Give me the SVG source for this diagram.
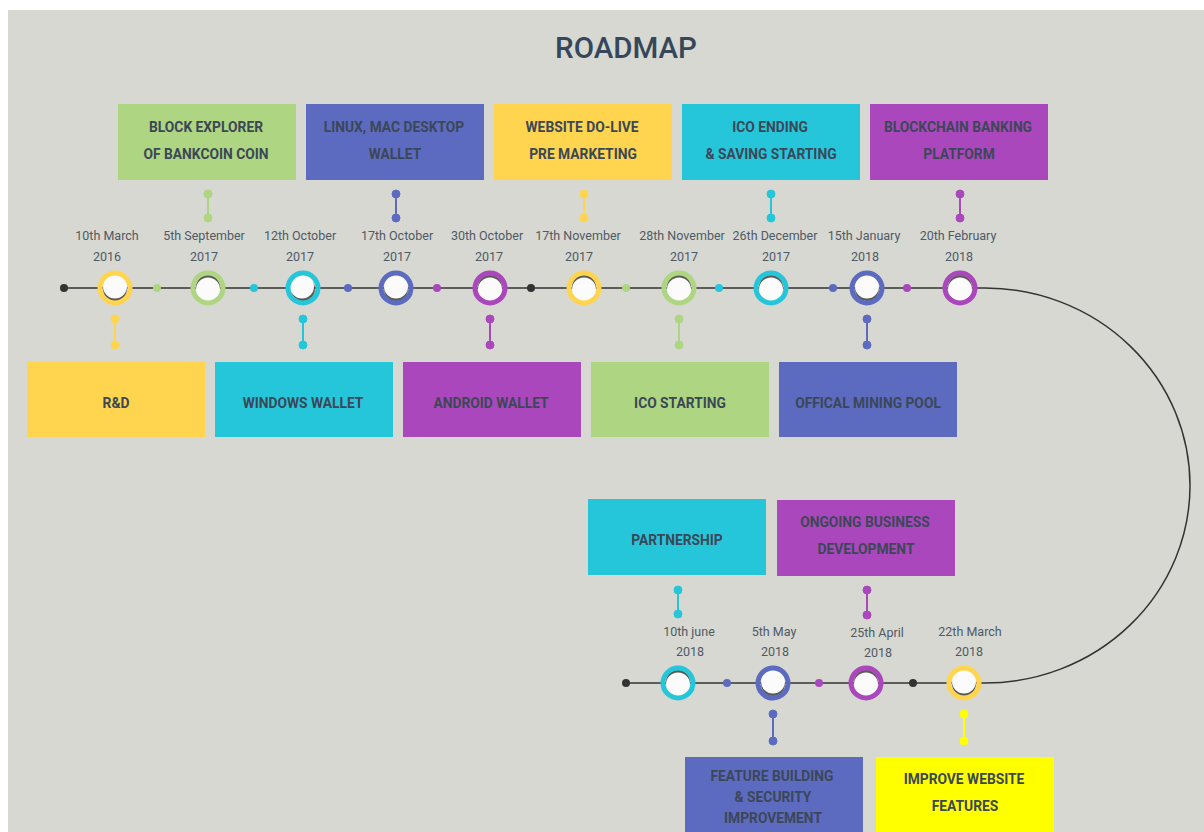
<svg xmlns="http://www.w3.org/2000/svg" width="1204" height="832" viewBox="0 0 1204 832">
<defs>
<filter id="soft" x="-20%" y="-20%" width="140%" height="140%"><feGaussianBlur stdDeviation="0.7"/></filter>
<style>
.title{font-family:Roboto,"Liberation Sans",sans-serif;font-size:29.5px;font-weight:500;fill:#35475a;text-anchor:middle}
.date{font-family:Roboto,"Liberation Sans",sans-serif;font-size:12.5px;fill:#4e5a66;text-anchor:middle}
.bt{font-family:Roboto,"Liberation Sans",sans-serif;font-size:13.8px;font-weight:700;fill:#3b4757;text-anchor:middle}
.ring{fill:none;stroke-width:5}
.inner{fill:#fbfbfb}
.shade{fill:#3c3a36;opacity:0.8;filter:url(#soft)}
.tl{fill:none;stroke:#333;stroke-width:1.5}
.stem{stroke-width:2}
</style>
</defs>
<rect x="0" y="0" width="1204" height="832" fill="#ffffff"/>
<rect x="8" y="10" width="1196" height="822" fill="#d8d8d2"/>
<text class="title" x="626" y="58">ROADMAP</text>

<g id="connectors">
<path class="tl" d="M64 288 L985 288 A205 197.5 0 0 1 985 683 L626 683"/>
<circle cx="64" cy="288" r="4" fill="#333"/>
<circle cx="157" cy="288" r="4" fill="#aed581"/>
<circle cx="254" cy="288" r="4" fill="#26c6da"/>
<circle cx="348" cy="288" r="4" fill="#5c6bc0"/>
<circle cx="437" cy="288" r="4" fill="#ab47bc"/>
<circle cx="531" cy="288" r="4" fill="#333"/>
<circle cx="626" cy="288" r="4" fill="#aed581"/>
<circle cx="719" cy="288" r="4" fill="#26c6da"/>
<circle cx="833" cy="288" r="4" fill="#5c6bc0"/>
<circle cx="907" cy="288" r="4" fill="#ab47bc"/>
<circle cx="626" cy="683" r="4" fill="#333"/>
<circle cx="727" cy="683" r="4" fill="#5c6bc0"/>
<circle cx="819" cy="683" r="4" fill="#ab47bc"/>
<circle cx="913" cy="683" r="4" fill="#333"/>
<g stroke="#aed581" fill="#aed581"><line class="stem" x1="208" y1="194" x2="208" y2="218"/><circle cx="208" cy="194" r="4"/><circle cx="208" cy="218" r="4"/></g>
<g stroke="#5c6bc0" fill="#5c6bc0"><line class="stem" x1="396" y1="194" x2="396" y2="218"/><circle cx="396" cy="194" r="4"/><circle cx="396" cy="218" r="4"/></g>
<g stroke="#ffd54f" fill="#ffd54f"><line class="stem" x1="584" y1="194" x2="584" y2="218"/><circle cx="584" cy="194" r="4"/><circle cx="584" cy="218" r="4"/></g>
<g stroke="#26c6da" fill="#26c6da"><line class="stem" x1="771" y1="194" x2="771" y2="218"/><circle cx="771" cy="194" r="4"/><circle cx="771" cy="218" r="4"/></g>
<g stroke="#ab47bc" fill="#ab47bc"><line class="stem" x1="960" y1="194" x2="960" y2="218"/><circle cx="960" cy="194" r="4"/><circle cx="960" cy="218" r="4"/></g>
<g stroke="#ffd54f" fill="#ffd54f"><line class="stem" x1="115" y1="319" x2="115" y2="345"/><circle cx="115" cy="319" r="4"/><circle cx="115" cy="345" r="4"/></g>
<g stroke="#26c6da" fill="#26c6da"><line class="stem" x1="303" y1="319" x2="303" y2="345"/><circle cx="303" cy="319" r="4"/><circle cx="303" cy="345" r="4"/></g>
<g stroke="#ab47bc" fill="#ab47bc"><line class="stem" x1="490" y1="319" x2="490" y2="345"/><circle cx="490" cy="319" r="4"/><circle cx="490" cy="345" r="4"/></g>
<g stroke="#aed581" fill="#aed581"><line class="stem" x1="679" y1="319" x2="679" y2="345"/><circle cx="679" cy="319" r="4"/><circle cx="679" cy="345" r="4"/></g>
<g stroke="#5c6bc0" fill="#5c6bc0"><line class="stem" x1="867" y1="319" x2="867" y2="345"/><circle cx="867" cy="319" r="4"/><circle cx="867" cy="345" r="4"/></g>
<g stroke="#26c6da" fill="#26c6da"><line class="stem" x1="678" y1="590" x2="678" y2="614"/><circle cx="678" cy="590" r="4"/><circle cx="678" cy="614" r="4"/></g>
<g stroke="#ab47bc" fill="#ab47bc"><line class="stem" x1="867" y1="590" x2="867" y2="615"/><circle cx="867" cy="590" r="4"/><circle cx="867" cy="615" r="4"/></g>
<g stroke="#5c6bc0" fill="#5c6bc0"><line class="stem" x1="773" y1="714" x2="773" y2="741"/><circle cx="773" cy="714" r="4"/><circle cx="773" cy="741" r="4"/></g>
<g stroke="#ffff00" fill="#ffff00"><line class="stem" x1="964" y1="714" x2="964" y2="741"/><circle cx="964" cy="714" r="4"/><circle cx="964" cy="741" r="4"/></g>
</g>

<g id="n1"><circle class="shade" cx="115" cy="289" r="12"/><circle class="inner" cx="115" cy="286.5" r="12"/><circle class="ring" cx="115" cy="288" r="15" stroke="#ffd54f"/><text class="date" x="107" y="240">10th March</text><text class="date" x="107" y="261">2016</text></g>
<g id="n2"><circle class="shade" cx="208" cy="287" r="12"/><circle class="inner" cx="208" cy="289.5" r="12"/><circle class="ring" cx="208" cy="288" r="15" stroke="#aed581"/><text class="date" x="204" y="240">5th September</text><text class="date" x="204" y="261">2017</text></g>
<g id="n3"><circle class="shade" cx="303" cy="289" r="12"/><circle class="inner" cx="302" cy="286.5" r="12"/><circle class="ring" cx="303" cy="288" r="15" stroke="#26c6da"/><text class="date" x="300" y="240">12th October</text><text class="date" x="300" y="261">2017</text></g>
<g id="n4"><circle class="shade" cx="396" cy="289" r="12"/><circle class="inner" cx="396" cy="286.5" r="12"/><circle class="ring" cx="396" cy="288" r="15" stroke="#5c6bc0"/><text class="date" x="397" y="240">17th October</text><text class="date" x="397" y="261">2017</text></g>
<g id="n5"><circle class="shade" cx="490" cy="287" r="12"/><circle class="inner" cx="490" cy="289.5" r="12"/><circle class="ring" cx="490" cy="288" r="15" stroke="#ab47bc"/><text class="date" x="487" y="240">30th October</text><text class="date" x="489" y="261">2017</text></g>
<g id="n6"><circle class="shade" cx="584" cy="287" r="12"/><circle class="inner" cx="584" cy="289.5" r="12"/><circle class="ring" cx="584" cy="288" r="15" stroke="#ffd54f"/><text class="date" x="578" y="240">17th November</text><text class="date" x="579" y="261">2017</text></g>
<g id="n7"><circle class="shade" cx="679" cy="287" r="12"/><circle class="inner" cx="679" cy="289.5" r="12"/><circle class="ring" cx="679" cy="288" r="15" stroke="#aed581"/><text class="date" x="682" y="240">28th November</text><text class="date" x="684" y="261">2017</text></g>
<g id="n8"><circle class="shade" cx="771" cy="287" r="12"/><circle class="inner" cx="771" cy="289.5" r="12"/><circle class="ring" cx="771" cy="288" r="15" stroke="#26c6da"/><text class="date" x="775" y="240">26th December</text><text class="date" x="776" y="261">2017</text></g>
<g id="n9"><circle class="shade" cx="867" cy="289" r="12"/><circle class="inner" cx="867" cy="286.5" r="12"/><circle class="ring" cx="867" cy="288" r="15" stroke="#5c6bc0"/><text class="date" x="864" y="240">15th January</text><text class="date" x="865" y="261">2018</text></g>
<g id="n10"><circle class="shade" cx="960" cy="287" r="12"/><circle class="inner" cx="960" cy="289.5" r="12"/><circle class="ring" cx="960" cy="288" r="15" stroke="#ab47bc"/><text class="date" x="958" y="240">20th February</text><text class="date" x="959" y="261">2018</text></g>

<g id="n11"><circle class="shade" cx="678" cy="682" r="12"/><circle class="inner" cx="678" cy="684.5" r="12"/><circle class="ring" cx="678" cy="683" r="15" stroke="#26c6da"/><text class="date" x="689" y="636">10th june</text><text class="date" x="690" y="656">2018</text></g>
<g id="n12"><circle class="shade" cx="773" cy="684" r="12"/><circle class="inner" cx="773" cy="681.5" r="12"/><circle class="ring" cx="773" cy="683" r="15" stroke="#5c6bc0"/><text class="date" x="774" y="636">5th May</text><text class="date" x="775" y="656">2018</text></g>
<g id="n13"><circle class="shade" cx="866" cy="682" r="12"/><circle class="inner" cx="866" cy="684.5" r="12"/><circle class="ring" cx="866" cy="683" r="15" stroke="#ab47bc"/><text class="date" x="877" y="637">25th April</text><text class="date" x="878" y="657">2018</text></g>
<g id="n14"><circle class="shade" cx="964" cy="684" r="12"/><circle class="inner" cx="964" cy="681.5" r="12"/><circle class="ring" cx="964" cy="683" r="15" stroke="#ffd54f"/><text class="date" x="970" y="636">22th March</text><text class="date" x="969" y="656">2018</text></g>

<g id="b1"><rect x="118" y="104" width="178" height="76" fill="#aed581"/><text class="bt" x="206" y="132">BLOCK EXPLORER</text><text class="bt" x="206" y="159">OF BANKCOIN COIN</text></g>
<g id="b2"><rect x="306" y="104" width="178" height="76" fill="#5c6bc0"/><text class="bt" x="394" y="132">LINUX, MAC DESKTOP</text><text class="bt" x="395" y="159">WALLET</text></g>
<g id="b3"><rect x="494" y="104" width="178" height="76" fill="#ffd54f"/><text class="bt" x="582" y="132">WEBSITE DO-LIVE</text><text class="bt" x="583" y="159">PRE MARKETING</text></g>
<g id="b4"><rect x="682" y="104" width="178" height="76" fill="#26c6da"/><text class="bt" x="770" y="132">ICO ENDING</text><text class="bt" x="771" y="159">&amp; SAVING STARTING</text></g>
<g id="b5"><rect x="870" y="104" width="178" height="76" fill="#ab47bc"/><text class="bt" x="958" y="132">BLOCKCHAIN BANKING</text><text class="bt" x="959" y="159">PLATFORM</text></g>

<g id="b6"><rect x="27" y="362" width="178" height="75" fill="#ffd54f"/><text class="bt" x="116" y="408">R&amp;D</text></g>
<g id="b7"><rect x="215" y="362" width="178" height="75" fill="#26c6da"/><text class="bt" x="303" y="408">WINDOWS WALLET</text></g>
<g id="b8"><rect x="403" y="362" width="178" height="75" fill="#ab47bc"/><text class="bt" x="491" y="408">ANDROID WALLET</text></g>
<g id="b9"><rect x="591" y="362" width="178" height="75" fill="#aed581"/><text class="bt" x="680" y="408">ICO STARTING</text></g>
<g id="b10"><rect x="779" y="362" width="178" height="75" fill="#5c6bc0"/><text class="bt" x="868" y="408">OFFICAL MINING POOL</text></g>

<g id="b11"><rect x="588" y="499" width="178" height="76" fill="#26c6da"/><text class="bt" x="677" y="545">PARTNERSHIP</text></g>
<g id="b12"><rect x="777" y="500" width="178" height="76" fill="#ab47bc"/><text class="bt" x="865" y="527">ONGOING BUSINESS</text><text class="bt" x="866" y="554">DEVELOPMENT</text></g>
<g id="b13"><rect x="685" y="757" width="178" height="80" fill="#5c6bc0"/><text class="bt" x="772" y="781">FEATURE BUILDING</text><text class="bt" x="773" y="802">&amp; SECURITY</text><text class="bt" x="773" y="823">IMPROVEMENT</text></g>
<g id="b14"><rect x="876" y="757" width="178" height="80" fill="#ffff00"/><text class="bt" x="964" y="784">IMPROVE WEBSITE</text><text class="bt" x="965" y="811">FEATURES</text></g>
</svg>
